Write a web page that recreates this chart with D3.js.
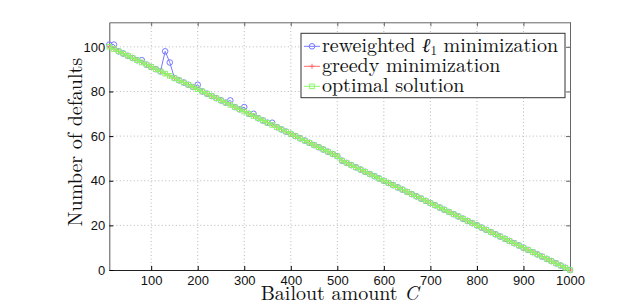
<!DOCTYPE html>
<html>
<head>
<meta charset="utf-8">
<script src="https://cdn.jsdelivr.net/npm/d3@7"></script>
<style>
  body { margin: 0; background: #fff; }
</style>
</head>
<body>
<div id="chart"></div>
<script>
// Settings
const SIZE = [630, 305]
const MARGIN = {top: 22.3, right: 60, bottom: 35, left: 109.3}

// Bailout amounts C
const bailout = [
  10, 20, 30, 40, 50, 60, 70, 80, 90, 100,
  110, 120, 130, 140, 150, 160, 170, 180, 190, 200,
  210, 220, 230, 240, 250, 260, 270, 280, 290, 300,
  310, 320, 330, 340, 350, 360, 370, 380, 390, 400,
  410, 420, 430, 440, 450, 460, 470, 480, 490, 500,
  510, 520, 530, 540, 550, 560, 570, 580, 590, 600,
  610, 620, 630, 640, 650, 660, 670, 680, 690, 700,
  710, 720, 730, 740, 750, 760, 770, 780, 790, 800,
  810, 820, 830, 840, 850, 860, 870, 880, 890, 900,
  910, 920, 930, 940, 950, 960, 970, 980, 990, 1000
]

const reweightedL1 = [
  101, 101, 98, 97, 96, 95, 94, 94, 92, 91,
  90, 89, 98, 93, 86, 85, 84, 83, 82, 83,
  80, 79, 78, 77, 76, 75, 76, 73, 72, 73,
  70, 70, 68, 67, 66, 66, 64, 63, 62, 61,
  60, 59, 58, 57, 56, 55, 54, 53, 52, 51,
  49, 48, 47, 46, 45, 44, 43, 42, 41, 40,
  39, 38, 37, 36, 35, 34, 33, 32, 31, 30,
  29, 28, 27, 26, 25, 24, 23, 22, 21, 20,
  19, 18, 17, 16, 15, 14, 13, 12, 11, 10,
  9, 8, 7, 6, 5, 4, 3, 2, 1, 0
]

const greedy = [
  100, 99, 98, 97, 96, 95, 94, 93, 92, 91,
  90, 89, 88, 87, 86, 85, 84, 83, 82, 81,
  80, 79, 78, 77, 76, 75, 74, 73, 72, 71,
  70, 69, 68, 67, 66, 65, 64, 63, 62, 61,
  60, 59, 58, 57, 56, 55, 54, 53, 52, 51,
  49, 48, 47, 46, 45, 44, 43, 42, 41, 40,
  39, 38, 37, 36, 35, 34, 33, 32, 31, 30,
  29, 28, 27, 26, 25, 24, 23, 22, 21, 20,
  19, 18, 17, 16, 15, 14, 13, 12, 11, 10,
  9, 8, 7, 6, 5, 4, 3, 2, 1, 0
]

const optimal = [
  100, 99, 98, 97, 96, 95, 94, 93, 92, 91,
  90, 89, 88, 87, 86, 85, 84, 83, 82, 81,
  80, 79, 78, 77, 76, 75, 74, 73, 72, 71,
  70, 69, 68, 67, 66, 65, 64, 63, 62, 61,
  60, 59, 58, 57, 56, 55, 54, 53, 52, 51,
  49, 48, 47, 46, 45, 44, 43, 42, 41, 40,
  39, 38, 37, 36, 35, 34, 33, 32, 31, 30,
  29, 28, 27, 26, 25, 24, 23, 22, 21, 20,
  19, 18, 17, 16, 15, 14, 13, 12, 11, 10,
  9, 8, 7, 6, 5, 4, 3, 2, 1, 0
]

const xTicks = [100, 200, 300, 400, 500, 600, 700, 800, 900, 1000]
const yTicks = [0, 20, 40, 60, 80, 100]
const xDomain = [10, 1000]
const yDomain = [0, 111]

const seriesList = [
  {name: "reweighted", values: reweightedL1, color: "#7878ff", width: 1, marker: "circle"},
  {name: "greedy minimization", values: greedy, color: "#ff6a6a", width: 1, marker: "plus"},
  {name: "optimal solution", values: optimal, color: "#8cf56e", width: 2, marker: "square"}
]

const svg = d3.select("#chart").append("svg")
  .attr("width", SIZE[0])
  .attr("height", SIZE[1])

const x = d3.scaleLinear().domain(xDomain).range([MARGIN.left, SIZE[0] - MARGIN.right])
const y = d3.scaleLinear().domain(yDomain).range([SIZE[1] - MARGIN.bottom, MARGIN.top])

const x0 = x.range()[0], x1 = x.range()[1]
const y0 = y.range()[0], y1 = y.range()[1]

// dotted grid
const grid = svg.append("g")
  .attr("stroke", "#b8b8b8")
  .attr("stroke-width", 1)
  .attr("stroke-dasharray", "1,2.5")
grid.selectAll(".gx").data(xTicks.filter(d => d < xDomain[1])).join("line")
  .attr("x1", d => x(d)).attr("x2", d => x(d))
  .attr("y1", y0).attr("y2", y1)
grid.selectAll(".gy").data(yTicks.filter(d => d > 0)).join("line")
  .attr("x1", x0).attr("x2", x1)
  .attr("y1", d => y(d)).attr("y2", d => y(d))

// axes, MATLAB style: inward ticks on every side
const tickFont = "'Liberation Sans', Arial, sans-serif"
svg.append("g")
  .attr("transform", `translate(0,${y0})`)
  .call(d3.axisBottom(x).tickValues(xTicks).tickFormat(d3.format("d")).tickSize(-4).tickPadding(6).tickSizeOuter(0))
  .call(g => g.select(".domain").attr("stroke", "#222"))
  .call(g => g.selectAll("text").attr("font-family", tickFont).attr("font-size", 13).attr("fill", "#111"))
svg.append("g")
  .attr("transform", `translate(${x0},0)`)
  .call(d3.axisLeft(y).tickValues(yTicks).tickSize(-4).tickPadding(4).tickSizeOuter(0))
  .call(g => g.select(".domain").attr("stroke", "#555"))
  .call(g => g.selectAll("text").attr("font-family", tickFont).attr("font-size", 13).attr("fill", "#111"))
svg.append("g")
  .attr("transform", `translate(0,${y1})`)
  .call(d3.axisTop(x).tickValues(xTicks).tickSize(-4).tickFormat("").tickSizeOuter(0))
  .call(g => g.selectAll("line, path").attr("stroke", "#666"))
svg.append("g")
  .attr("transform", `translate(${x1},0)`)
  .call(d3.axisRight(y).tickValues(yTicks).tickSize(-4).tickFormat("").tickSizeOuter(0))
  .call(g => g.selectAll("line, path").attr("stroke", "#666"))

// series
const line = d3.line()
  .x((d, i) => x(bailout[i]))
  .y(d => y(d))

function drawMarker(g, type, color) {
  if (type === "circle") {
    g.append("circle").attr("r", 2.8).attr("fill", "none").attr("stroke", color).attr("stroke-width", 1)
  } else if (type === "plus") {
    g.append("path").attr("d", "M-2.5,0H2.5M0,-2.5V2.5").attr("stroke", color).attr("stroke-width", 1)
  } else {
    g.append("rect").attr("x", -2.3).attr("y", -2.3).attr("width", 4.6).attr("height", 4.6)
      .attr("fill", "none").attr("stroke", color).attr("stroke-width", 1)
  }
}

const plotArea = svg.append("g")
for (const s of seriesList) {
  plotArea.append("path")
    .datum(s.values)
    .attr("fill", "none")
    .attr("stroke", s.color)
    .attr("stroke-width", s.width)
    .attr("stroke-linejoin", "round")
    .attr("d", line)
  plotArea.append("g").selectAll("g")
    .data(s.values)
    .join("g")
      .attr("transform", (d, i) => `translate(${x(bailout[i])},${y(d)})`)
      .each(function() { drawMarker(d3.select(this), s.marker, s.color) })
}

// axis labels
const serif = "'Latin Modern Roman', 'CMU Serif', 'Liberation Serif', 'DejaVu Serif', serif"
svg.append("text")
  .attr("x", (x0 + x1) / 2)
  .attr("y", 299.5)
  .attr("text-anchor", "middle")
  .attr("font-family", serif)
  .attr("font-size", 20)
  .attr("fill", "#111")
  .call(t => t.append("tspan").text("Bailout amount "))
  .call(t => t.append("tspan").attr("font-style", "italic").text("C"))

svg.append("text")
  .attr("transform", `translate(82,${(y0 + y1) / 2 - 4}) rotate(-90)`)
  .attr("text-anchor", "middle")
  .attr("font-family", serif)
  .attr("font-size", 20)
  .attr("fill", "#111")
  .text("Number of defaults")

// legend
const legend = svg.append("g").attr("transform", "translate(301,33.3)")
legend.append("rect")
  .attr("width", 264).attr("height", 64.4)
  .attr("fill", "#fff").attr("stroke", "#333").attr("stroke-width", 1)

const legendRows = legend.selectAll(".row")
  .data(seriesList)
  .join("g")
    .attr("transform", (d, i) => `translate(0,${13 + i * 20})`)
legendRows.append("line")
  .attr("x1", 3).attr("x2", 19)
  .attr("stroke", d => d.color).attr("stroke-width", 1)
legendRows.append("g")
  .attr("transform", "translate(11,0)")
  .each(function(d) { drawMarker(d3.select(this), d.marker, d.color) })
legendRows.append("text")
  .attr("x", 21)
  .attr("y", 6)
  .attr("font-family", serif)
  .attr("font-size", 20)
  .attr("fill", "#111")
  .each(function(d) {
    const t = d3.select(this)
    if (d.name === "reweighted") {
      t.append("tspan").text("reweighted ")
      t.append("tspan").attr("font-style", "italic").text("ℓ")
      t.append("tspan").attr("font-size", 13).attr("dy", 3).text("1")
      t.append("tspan").attr("dy", -3).text(" minimization")
    } else {
      t.text(d.name)
    }
  })
</script>
</body>
</html>
